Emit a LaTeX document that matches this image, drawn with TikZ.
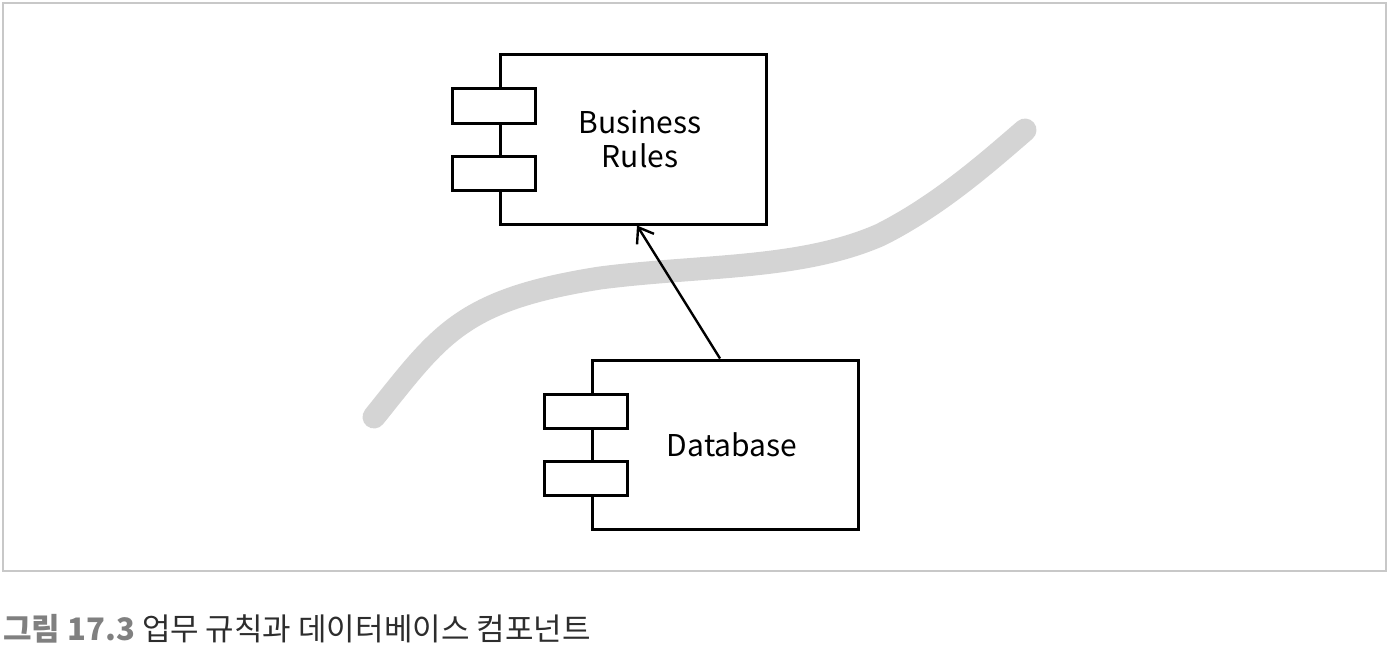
\documentclass[tikz,border=0pt]{standalone}
\usepackage{fontspec}
\setmainfont{Noto Sans CJK KR}
\usetikzlibrary{arrows.meta,positioning}
\definecolor{framegray}{RGB}{200,200,200}
\definecolor{pathgray}{RGB}{212,212,212}
\definecolor{captiongray}{RGB}{128,128,128}
\definecolor{captiontext}{RGB}{45,45,45}

\begin{document}
\begin{tikzpicture}[
    x=0.5pt, y=-0.5pt,
    comp/.style={rectangle, draw, line width=1.5pt, minimum width=133pt,
                 minimum height=84.5pt, inner sep=0pt},
    complabel/.style={align=center, xshift=3.5pt,
                      font=\fontsize{15}{17}\selectfont},
    port/.style={rectangle, draw, fill=white, line width=1.5pt,
                 minimum width=41.5pt, minimum height=17pt, inner sep=0pt},
    dep/.style={-{Straight Barb[length=7pt,width=10pt]}, line width=1.2pt},
    boundary/.style={line width=11.5pt, line cap=round, draw=pathgray},
]
\useasboundingbox (0,0) rectangle (1390,658);

% Frame
\draw[framegray, line width=0.9pt] (3,3) rectangle (1386,571);

% Boundary
\draw[boundary] (374,417) .. controls (440,335) and (460,300) .. (600,278)
    .. controls (700,265) and (800,270) .. (880,235)
    .. controls (940,205) and (990,160) .. (1025,130);

% Business Rules
\node[comp, label={[complabel]center:Business\\Rules}] (rules) at (633,139.5) {};
\node[port] (rulesA) at ([xshift=-2.25pt, yshift=16.75pt]rules.west) {};
\node[port] (rulesB) at ([xshift=-2.25pt, yshift=-16.75pt]rules.west) {};

% Database
\node[comp, label={[complabel]center:Database}] (db) at (725,444.5) {};
\node[port] (dbA) at ([xshift=-2.25pt, yshift=16.75pt]db.west) {};
\node[port] (dbB) at ([xshift=-2.25pt, yshift=-16.75pt]db.west) {};

% Dependency
\draw[dep] ([xshift=-2.5pt]db.north) -- ([xshift=2pt]rules.south);

% Caption
\node[anchor=base west, inner sep=0pt, font=\fontsize{15.5}{19}\selectfont]
    (caption) at (3,640)
    {\textcolor{captiongray}{\textbf{그림 17.3}} \textcolor{captiontext}{업무 규칙과 데이터베이스 컴포넌트}};

\end{tikzpicture}
\end{document}
